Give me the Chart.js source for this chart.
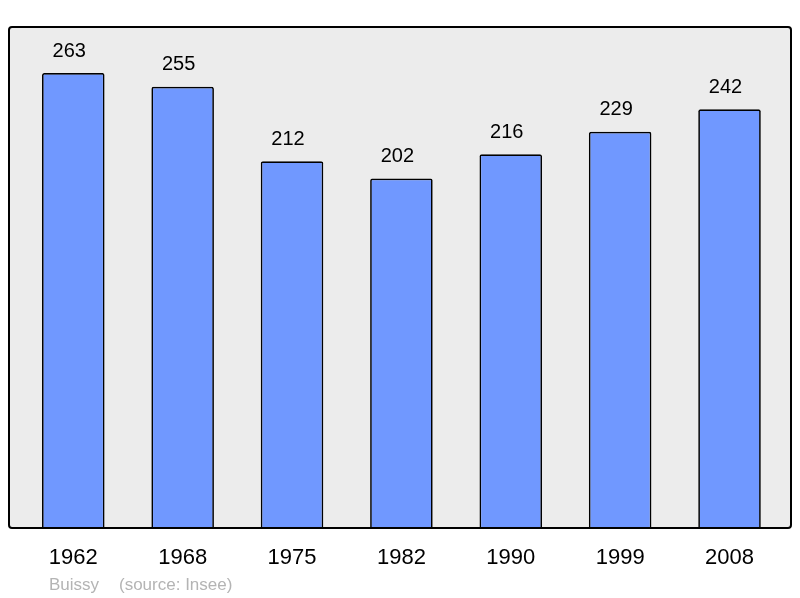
<!DOCTYPE html>
<html>
<head>
<meta charset="utf-8">
<script src="https://cdn.jsdelivr.net/npm/chart.js@4"></script>
<style>
  html, body { margin: 0; padding: 0; background: #fff; }
  #wrap { width: 800px; height: 598px; }
</style>
</head>
<body>
<div id="wrap"><canvas id="chart"></canvas></div>
<script>
const years = ['1962', '1968', '1975', '1982', '1990', '1999', '2008'];
const population = [263, 255, 212, 202, 216, 229, 242];
const footerPlace = 'Buissy';
const footerSource = '(source: Insee)';

// grey frame behind the bars, border on top
const framePlugin = {
    id: 'frame',
    beforeDatasetsDraw(chart) {
        const ctx = chart.ctx;
        ctx.save();
        ctx.beginPath();
        ctx.roundRect(9, 27, 782, 501, 3);
        ctx.fillStyle = '#ececec';
        ctx.fill();
        ctx.restore();
    },
    afterDatasetsDraw(chart) {
        const ctx = chart.ctx;
        ctx.save();
        ctx.beginPath();
        ctx.roundRect(9, 27, 782, 501, 3);
        ctx.lineWidth = 2;
        ctx.strokeStyle = '#000';
        ctx.stroke();

        // values above the bars (sit a little left of centre, like the original)
        ctx.font = '20px "Liberation Sans", Arial, sans-serif';
        ctx.fillStyle = '#000';
        ctx.textAlign = 'center';
        ctx.textBaseline = 'middle';
        chart.getDatasetMeta(0).data.forEach((bar, i) => {
            ctx.fillText(String(population[i]), bar.x - 4, bar.y - 22);
        });

        // footer
        ctx.font = '17px "Liberation Sans", Arial, sans-serif';
        ctx.fillStyle = '#b4b4b4';
        ctx.textAlign = 'left';
        ctx.fillText(footerPlace, 49, 585);
        ctx.fillText(footerSource, 119, 585);
        ctx.restore();
    }
};

new Chart(document.getElementById('chart'), {
    type: 'bar',
    data: {
        labels: years,
        datasets: [{
            data: population,
            backgroundColor: '#7098ff',
            borderColor: '#000',
            borderWidth: 1.7,
            borderRadius: 2,
            barPercentage: 0.572,
            categoryPercentage: 1
        }]
    },
    options: {
        responsive: true,
        maintainAspectRatio: false,
        animation: false,
        layout: { padding: { left: 18.6, right: 15.8, top: 27, bottom: 0 } },
        plugins: { legend: { display: false }, tooltip: { enabled: false } },
        scales: {
            x: {
                grid: { display: false, drawTicks: false },
                border: { display: false },
                ticks: {
                    color: '#000',
                    padding: 17,
                    font: { family: '"Liberation Sans", Arial, sans-serif', size: 22 }
                },
                afterFit(scale) { scale.height = 70; }
            },
            y: { display: false, min: 0, max: 289.6 }
        }
    },
    plugins: [framePlugin]
});
</script>
</body>
</html>
